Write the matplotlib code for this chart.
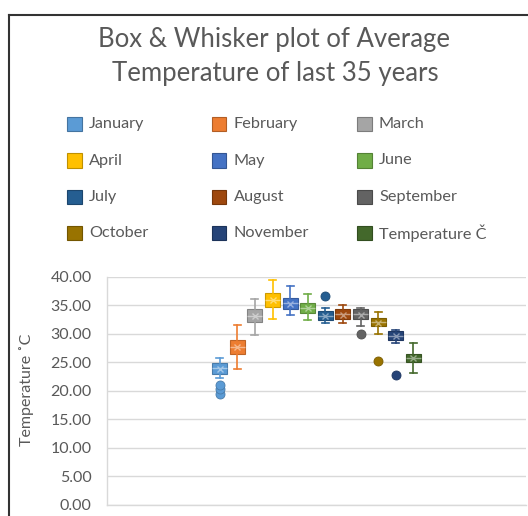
import matplotlib
matplotlib.use('Agg')
import matplotlib.pyplot as plt
from matplotlib.patches import Rectangle
from matplotlib.lines import Line2D
import matplotlib.colors as mcolors

# Series (months) and their colours (Excel Office palette)
months = ['January', 'February', 'March', 'April', 'May', 'June',
          'July', 'August', 'September', 'October', 'November', 'Temperature \u010C']
colors = ['#5B9BD5', '#ED7D31', '#A5A5A5', '#FFC000', '#4472C4', '#70AD47',
          '#255E91', '#9E480E', '#636363', '#997300', '#264478', '#43682B']

# Box statistics (deg C)
whis_lo = [22.2, 23.8, 29.7, 32.6, 33.2, 32.4, 31.9, 31.9, 31.3, 29.9, 28.4, 23.1]
q1      = [22.9, 26.4, 32.0, 34.7, 34.3, 33.6, 32.4, 32.5, 32.5, 31.3, 28.8, 25.1]
medians = [23.9, 27.6, 33.1, 35.9, 35.3, 34.5, 33.1, 33.4, 33.4, 32.0, 29.6, 25.8]
q3      = [24.8, 28.9, 34.3, 37.1, 36.3, 35.4, 34.0, 34.3, 34.3, 32.7, 30.4, 26.4]
whis_hi = [25.8, 31.5, 36.1, 39.3, 38.4, 36.9, 34.5, 35.0, 34.4, 33.7, 30.6, 28.4]
means   = [23.8, 27.7, 33.0, 35.8, 35.2, 34.4, 33.0, 33.3, 33.3, 31.9, 29.5, 25.7]
outliers = [[19.5, 20.3, 21.0], [], [], [], [], [],
            [36.6], [], [29.9], [25.2], [22.8], []]

yticks = [0, 5, 10, 15, 20, 25, 30, 35, 40]

FONT = ['Lato', 'DejaVu Sans']
TXT = '#595959'
plt.rcParams['font.family'] = FONT

W, H = 528, 516
fig = plt.figure(figsize=(W / 100, H / 100), dpi=100)
fig.patch.set_facecolor('white')


def fx(px):
    return px / W


def fy(py):
    return 1 - py / H


# Black frame of the screenshot (top and left edges)
fig.add_artist(Line2D([fx(9), 1], [fy(15), fy(15)], color='#333333', lw=1.5))
fig.add_artist(Line2D([fx(9), fx(9)], [fy(15), 0], color='#333333', lw=1.5))

# Title
fig.text(fx(274), fy(40), 'Box & Whisker plot of Average', ha='center', va='center',
         fontsize=18.5, color=TXT)
fig.text(fx(275), fy(74), 'Temperature of last 35 years', ha='center', va='center',
         fontsize=18.5, color=TXT)

# Legend (3 columns x 4 rows)
col_x = [67, 211.5, 357]
row_y = [124, 160.5, 197, 233]
sq = 14.5
for i, (name, c) in enumerate(zip(months, colors)):
    cx = col_x[i % 3]
    cy = row_y[i // 3]
    edge = mcolors.to_hex([v * 0.75 for v in mcolors.to_rgb(c)])
    fig.add_artist(Rectangle((fx(cx), fy(cy + sq / 2)), sq / W, sq / H,
                             transform=fig.transFigure, facecolor=c,
                             edgecolor=edge, lw=0.8))
    fig.text(fx(cx + sq + 7.5), fy(cy), name, ha='left', va='center',
             fontsize=11.7, color=TXT)

# Plot area
ax = fig.add_axes([fx(107), fy(505), fx(526) - fx(107), (505 - 276.5) / H])
ax.set_xlim(0, 1)
ax.set_ylim(0, 40)

n = len(months)
step = 17.6 / 419
positions = [0.5 + (i - (n - 1) / 2) * step for i in range(n)]
stats = []
for i in range(n):
    stats.append(dict(med=medians[i], q1=q1[i], q3=q3[i], whislo=whis_lo[i],
                      whishi=whis_hi[i], mean=means[i], fliers=outliers[i]))

bp = ax.bxp(stats, positions=positions, widths=15 / 419, patch_artist=True,
            showmeans=True, manage_ticks=False, capwidths=7 / 419)

for i, c in enumerate(colors):
    rgb = mcolors.to_rgb(c)
    dark = [v * 0.8 for v in rgb]
    light = [v + (1 - v) * 0.45 for v in rgb]
    bp['boxes'][i].set(facecolor=c, edgecolor=dark, linewidth=0.8)
    bp['medians'][i].set(color=light, linewidth=1.0)
    bp['means'][i].set(marker='x', markeredgecolor=light, markersize=5,
                       markeredgewidth=1.0)
    for w in bp['whiskers'][2 * i:2 * i + 2]:
        w.set(color=c, linewidth=1.2)
    for cp in bp['caps'][2 * i:2 * i + 2]:
        cp.set(color=c, linewidth=1.2)
    bp['fliers'][i].set(marker='o', markerfacecolor=c, markeredgecolor=dark,
                        markersize=6.5, markeredgewidth=0.6)

ax.set_yticks(yticks)
ax.set_yticklabels([f'{v:.2f}' for v in yticks])
ax.set_xticks([])
ax.tick_params(axis='y', length=0, pad=11, labelsize=11.5, labelcolor=TXT)
ax.yaxis.grid(True, color='#D9D9D9', linewidth=1.0)
ax.set_axisbelow(True)
for s in ['top', 'right']:
    ax.spines[s].set_visible(False)
for s in ['left', 'bottom']:
    ax.spines[s].set_color('#D9D9D9')
    ax.spines[s].set_linewidth(1.0)

fig.text(fx(27), fy(390), 'Temperature \u02daC', rotation=90, ha='center',
         va='center', fontsize=11.5, color=TXT)

fig.savefig('out.png', dpi=100)
